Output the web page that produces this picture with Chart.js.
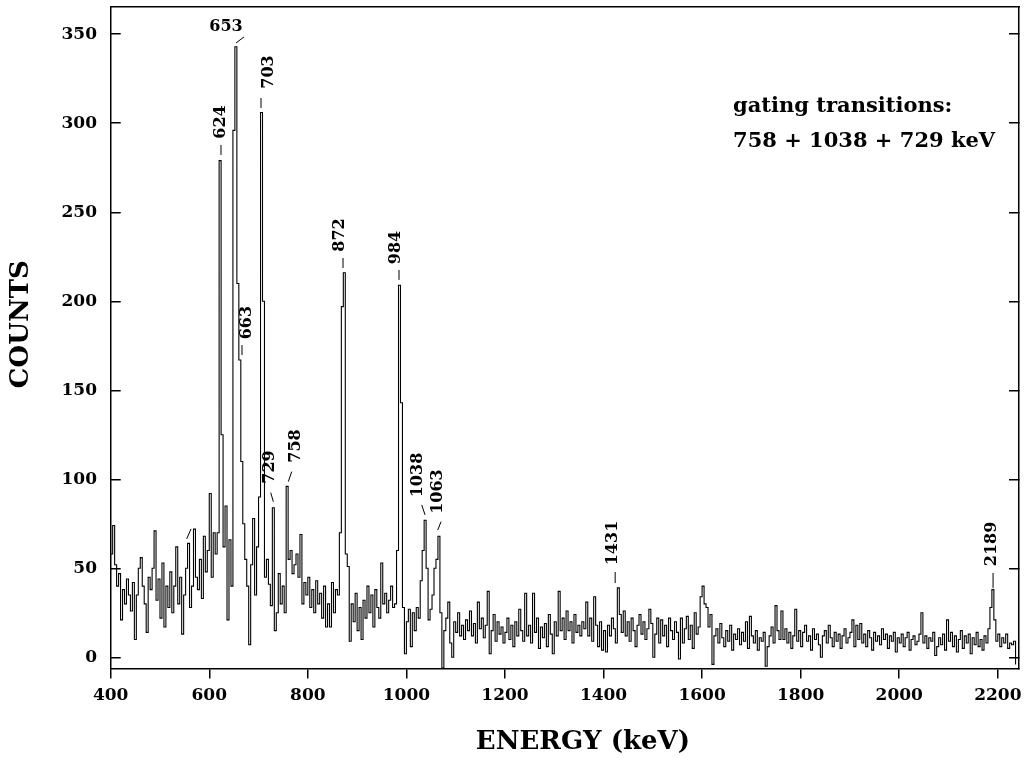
<!DOCTYPE html>
<html>
<head>
<meta charset="utf-8">
<script src="https://cdn.jsdelivr.net/npm/chart.js@4.4.1/dist/chart.umd.min.js"></script>
<style>
  html, body { margin: 0; padding: 0; background: #ffffff; }
  #wrap { width: 1031px; height: 758px; position: relative; }
</style>
</head>
<body>
<div id="wrap"><canvas id="c"></canvas></div>
<script>
// ---- DATA ----
// Gated gamma-ray spectrum, counts per 4 keV bin starting at 400 keV
const binStartKeV = 400;
const binWidthKeV = 4;
const counts = [
  58, 74, 52, 40, 47, 21, 38, 30, 44, 35,
  26, 42, 10, 35, 50, 56, 40, 30, 14, 45,
  38, 50, 71, 32, 44, 22, 53, 17, 40, 28,
  48, 25, 40, 62, 30, 45, 13, 35, 50, 64,
  28, 40, 72, 45, 38, 55, 33, 68, 48, 60,
  92, 45, 70, 58, 70, 279, 125, 62, 85, 21,
  66, 40, 296, 343, 210, 167, 110, 75, 55, 40,
  7, 52, 78, 35, 62, 90, 306, 200, 45, 55,
  41, 29, 84, 15, 25, 47, 30, 40, 25, 96,
  55, 60, 47, 52, 58, 45, 69, 30, 42, 35,
  45, 28, 38, 25, 43, 30, 36, 22, 40, 17,
  30, 17, 42, 25, 38, 35, 70, 197, 216, 58,
  51, 9, 30, 20, 36, 15, 28, 10, 32, 22,
  40, 25, 35, 17, 38, 28, 22, 53, 30, 36,
  25, 32, 40, 28, 30, 60, 209, 143, 28, 2,
  20, 27, 6, 25, 15, 28, 22, 43, 60, 77,
  50, 21, 27, 35, 50, 55, 68, 25, -6, 15,
  22, 31, 8, 0, 20, 14, 25, 12, 18, 10,
  21, 15, 26, 12, 19, 8, 31, 16, 22, 11,
  18, 37, 2, 15, 24, 9, 20, 13, 17, 8,
  14, 22, 10, 18, 6, 20, 12, 27, 15, 9,
  36, 12, 18, 8, 36, 14, 22, 5, 17, 11,
  19, 6, 24, 13, 2, 20, 12, 37, 15, 22,
  10, 26, 15, 20, 8, 24, 14, 18, 12, 20,
  16, 31, 12, 22, 9, 34, 18, 6, 20, 4,
  15, 3, 18, 12, 22, 16, 8, 39, 24, 14,
  26, 12, 20, 9, 22, 15, 6, 18, 24, 13,
  20, 10, 16, 27, 19, 0, 13, 22, 8, 21,
  12, 18, 6, 22, 15, 10, 20, 14, -1, 22,
  8, 16, 23, 10, 18, 5, 25, 13, 17, 34,
  40, 30, 28, 17, 24, -4, 12, 16, 8, 19,
  11, 6, 15, 9, 18, 4, 13, 10, 16, 7,
  14, 9, 20, 5, 23, 12, 8, 15, 4, 11,
  9, 14, -5, 6, 12, 17, 8, 29, 15, 10,
  26, 10, 16, 8, 14, 5, 12, 27, 9, 15,
  6, 14, 18, 9, 12, 4, 16, 10, 13, 7,
  0, 12, 15, 8, 18, 11, 6, 14, 9, 13,
  5, 12, 16, 8, 11, 14, 21, 6, 18, 10,
  19, 8, 13, 6, 15, 11, 4, 14, 9, 12,
  7, 16, 10, 13, 5, 12, 9, 14, 3, 11,
  8, 13, 6, 11, 14, 4, 10, 12, 7, 9,
  13, 25, 8, 12, 5, 11, 9, 14, 1, 6,
  11, 7, 13, 4, 21, 9, 14, 6, 12, 3,
  10, 15, 5, 12, 8, 13, 2, 11, 7, 14,
  6, 10, 4, 12, 8, 16, 28, 38, 21, 9,
  13, 6, 11, 8, 13, 5, 8, 7, 9, -4
];
const xTickValues = [400, 600, 800, 1000, 1200, 1400, 1600, 1800, 2000, 2200];
const yTickValues = [0, 50, 100, 150, 200, 250, 300, 350];
const peakNames = ['653', '624', '703', '663', '729', '758', '872', '984', '1038', '1063', '1431', '2189'];
const gatingLines = ['gating transitions:', '758 + 1038 + 729 keV'];

// ---- LAYOUT of the annotations (in data units: keV, counts) ----
const peakLabelLayout = {
  '653':  { tx: 634,    ty: 354.1, rot: 0,   d: [654.3, 345.1, 670.5, 348.5] },
  '624':  { tx: 623.8,  ty: 300.7, rot: -90, d: [623.8, 287.8, 623.8, 282.2] },
  '703':  { tx: 721.2,  ty: 328.8, rot: -90, d: [705, 314.2, 705, 308.6] },
  '663':  { tx: 676,    ty: 188,   rot: -90, d: [666.4, 175.4, 666.4, 169.8] },
  '729':  { tx: 722.3,  ty: 106.9, rot: -90, d: [724.7, 92.5, 730, 87.4] },
  '758':  { tx: 775,    ty: 118.7, rot: -90, d: [767.3, 104.3, 760.4, 98.7] },
  '872':  { tx: 865.3,  ty: 237.2, rot: -90, d: [871.4, 224.3, 871.4, 218.7] },
  '984':  { tx: 978.3,  ty: 230.2, rot: -90, d: [985, 217.6, 985, 212] },
  '1038': { tx: 1023.6, ty: 102.4, rot: -90, d: [1031.1, 85.6, 1037.8, 80] },
  '1063': { tx: 1063.2, ty: 93.1,  rot: -90, d: [1070.3, 76.2, 1063.6, 71.5] },
  '1431': { tx: 1419.5, ty: 64.2,  rot: -90, d: [1423.6, 47.9, 1423.6, 41.7] },
  '2189': { tx: 2187.8, ty: 63.7,  rot: -90, d: [2190.4, 47.4, 2190.4, 38.9] }
};
const extraDash = [554.2, 66.5, 563, 72.1];
const gatingPos = { x: 1662.8, y: [306.3, 286.7] };

const SERIF = "'DejaVu Serif', 'Liberation Serif', serif";

const points = counts.map((v, i) => ({ x: binStartKeV + i * binWidthKeV, y: v }));

const notesPlugin = {
  id: 'peakNotes',
  afterDatasetsDraw(chart) {
    const { ctx } = chart;
    const xs = chart.scales.x, ys = chart.scales.y;
    const px = v => xs.getPixelForValue(v);
    const py = v => ys.getPixelForValue(v);
    ctx.save();
    ctx.fillStyle = '#000';
    ctx.strokeStyle = '#000';
    ctx.lineWidth = 1;
    ctx.font = "bold 16px " + SERIF;
    ctx.textAlign = 'center';
    ctx.textBaseline = 'middle';
    const dash = d => {
      ctx.beginPath();
      ctx.moveTo(px(d[0]), py(d[1]));
      ctx.lineTo(px(d[2]), py(d[3]));
      ctx.stroke();
    };
    peakNames.forEach(name => {
      const L = peakLabelLayout[name];
      ctx.save();
      ctx.translate(px(L.tx), py(L.ty));
      ctx.rotate(L.rot * Math.PI / 180);
      ctx.fillText(name, 0, 0);
      ctx.restore();
      dash(L.d);
    });
    dash(extraDash);
    ctx.font = "bold 21px " + SERIF;
    ctx.textAlign = 'left';
    ctx.textBaseline = 'alphabetic';
    gatingLines.forEach((t, i) => ctx.fillText(t, px(gatingPos.x), py(gatingPos.y[i])));
    ctx.restore();
  }
};

const tickFont = { family: SERIF, size: 17, weight: 'bold' };
const titleFont = { family: SERIF, size: 26, weight: 'bold' };

new Chart(document.getElementById('c'), {
  type: 'line',
  data: {
    datasets: [{
      data: points,
      borderColor: '#000',
      borderWidth: 1.1,
      pointRadius: 0,
      stepped: 'before',
      fill: false,
      tension: 0
    }]
  },
  options: {
    responsive: true,
    maintainAspectRatio: false,
    animation: false,
    layout: { autoPadding: false, padding: { left: 0, right: 12, top: 7, bottom: 0 } },
    plugins: { legend: { display: false }, tooltip: { enabled: false } },
    scales: {
      x: {
        type: 'linear', position: 'bottom', min: 400, max: 2243,
        afterBuildTicks: s => { s.ticks = xTickValues.map(v => ({ value: v })); },
        afterFit: s => { s.height = 89.5; s.paddingLeft = 0; s.paddingRight = 0; },
        grid: { drawOnChartArea: false, drawTicks: true, tickLength: 10, color: '#000', lineWidth: 1.5 },
        border: { display: true, color: '#000', width: 1.5 },
        ticks: { color: '#000', font: tickFont, padding: 7, maxRotation: 0, autoSkip: false, callback: v => String(v) },
        title: { display: true, text: '    ENERGY (keV)', color: '#000', font: titleFont, padding: { top: 0, bottom: 0 } }
      },
      x2: {
        type: 'linear', position: 'top', min: 400, max: 2243,
        afterFit: s => { s.height = 0; s.paddingLeft = 0; s.paddingRight = 0; },
        grid: { drawOnChartArea: false, drawTicks: false },
        border: { display: true, color: '#000', width: 1.5 },
        ticks: { display: false }
      },
      y: {
        type: 'linear', position: 'left', min: -6.3, max: 365.3,
        afterBuildTicks: s => { s.ticks = yTickValues.map(v => ({ value: v })); },
        afterFit: s => { s.width = 110.7; s.paddingTop = 0; s.paddingBottom = 0; },
        grid: { drawOnChartArea: false, drawTicks: true, tickLength: -10, color: '#000', lineWidth: 1.5 },
        border: { display: true, color: '#000', width: 1.5 },
        ticks: { color: '#000', font: tickFont, padding: 23.7, callback: v => String(v) },
        title: { display: true, text: '   COUNTS', color: '#000', font: titleFont, padding: { top: 6, bottom: 0 } }
      },
      y2: {
        type: 'linear', position: 'right', min: -6.3, max: 365.3,
        afterBuildTicks: s => { s.ticks = yTickValues.map(v => ({ value: v })); },
        afterFit: s => { s.width = 0; s.paddingTop = 0; s.paddingBottom = 0; },
        grid: { drawOnChartArea: false, drawTicks: true, tickLength: -10, color: '#000', lineWidth: 1.5 },
        border: { display: true, color: '#000', width: 1.5 },
        ticks: { display: false }
      }
    }
  },
  plugins: [notesPlugin]
});
</script>
</body>
</html>
